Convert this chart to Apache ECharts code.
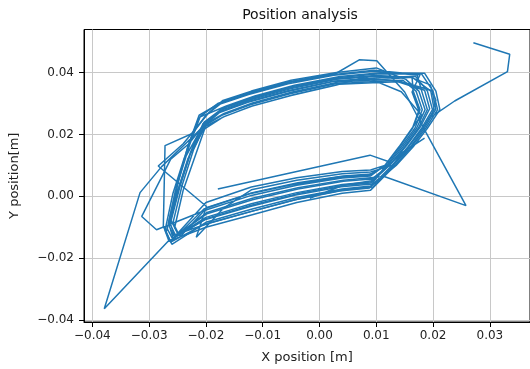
<!DOCTYPE html>
<html><head><meta charset="utf-8">
<script src="https://cdn.jsdelivr.net/npm/echarts@6/dist/echarts.min.js"></script>
<style>html,body{margin:0;padding:0;background:#fff}#c{width:530px;height:369px}</style>
</head><body><div id="c"></div><script>
// Tick values
const xTicks = [-0.04, -0.03, -0.02, -0.01, 0.00, 0.01, 0.02, 0.03];
const yTicks = [-0.04, -0.02, 0.00, 0.02, 0.04];
const xRange = [-0.04147, 0.03707];
const yRange = [-0.0406, 0.0539];

// Trajectory segment 1 (starts at the top-right tail)
const pathA = [
[0.0271,0.0496],[0.0335,0.0459],[0.0331,0.0403],[0.0238,0.0308],[0.0197,0.0257],[0.0205,0.0310],[0.0195,0.0360],
[0.0160,0.0385],[0.0100,0.0388],[0.0030,0.0378],[-0.0050,0.0348],[-0.0120,0.0313],[-0.0170,0.0280],
[-0.0205,0.0235],[-0.0228,0.0138],[-0.0248,0.0025],[-0.0265,-0.0095],[-0.0255,-0.0132],
[-0.0200,-0.0068],[-0.0120,-0.0024],[-0.0040,0.0012],[0.0040,0.0038],[0.0090,0.0046],
[0.0123,0.0100],[0.0150,0.0160],[0.0174,0.0220],[0.0190,0.0280],[0.0180,0.0340],
[0.0172,0.0392],[0.0095,0.0404],[0.0025,0.0391],[-0.0055,0.0364],[-0.0125,0.0329],[-0.0175,0.0298],
[-0.0200,0.0262],[-0.0223,0.0204],[-0.0272,0.0164],[-0.0275,-0.0097],[-0.0262,-0.0148],
[-0.0205,-0.0092],[-0.0125,-0.0051],[-0.0045,-0.0012],[0.0035,0.0017],[0.0088,0.0027],
[0.0128,0.0100],[0.0157,0.0160],[0.0182,0.0220],[0.0202,0.0280],[0.0196,0.0340],
[0.0163,0.0385],[0.0102,0.0377],[0.0032,0.0369],[-0.0048,0.0337],[-0.0118,0.0302],[-0.0168,0.0268],
[-0.0200,0.0235],[-0.0222,0.0150],[-0.0242,0.0035],[-0.0258,-0.0085],[-0.0248,-0.0122],
[-0.0198,-0.0052],[-0.0118,-0.0006],[-0.0038,0.0028],[0.0042,0.0052],[0.0114,0.0064],
[0.0258,-0.0030],[0.0185,0.0215],[0.0168,0.0274],[0.0150,0.0337],[0.0101,0.0438],[0.0070,0.0441],
[0.0028,0.0396],[-0.0052,0.0370],[-0.0122,0.0335],[-0.0172,0.0304],
[-0.0212,0.0262],[-0.0232,0.0160],[-0.0250,0.0040],[-0.0266,-0.0085],[-0.0258,-0.0135],
[-0.0202,-0.0076],[-0.0122,-0.0033],[-0.0042,0.0004],[0.0038,0.0031],[0.0092,0.0040],
[0.0118,0.0100],[0.0144,0.0160],[0.0168,0.0220],[0.0181,0.0280],[0.0170,0.0340],
[0.0147,0.0375],[0.0098,0.0371],[0.0028,0.0364],[-0.0052,0.0331],[-0.0122,0.0296],[-0.0172,0.0262],
[-0.0205,0.0225],[-0.0278,0.0096],[-0.0316,0.0012],[-0.0379,-0.0363],[-0.0267,-0.0146],
[-0.0200,-0.0100],[-0.0120,-0.0060],[-0.0040,-0.0020],[0.0040,0.0010],[0.0090,0.0020],
[0.0133,0.0100],[0.0162,0.0160],[0.0187,0.0220],[0.0208,0.0280],[0.0200,0.0340],
[0.0180,0.0395],[0.0105,0.0396],[0.0035,0.0384],[-0.0045,0.0356],[-0.0115,0.0321],[-0.0165,0.0289],
[-0.0197,0.0245],[-0.0218,0.0135],[-0.0240,0.0020],[-0.0255,-0.0100],[-0.0245,-0.0130],
[-0.0198,-0.0036],[-0.0118,0.0012],[-0.0038,0.0044],[0.0042,0.0066],[0.0092,0.0072],
[0.0125,0.0110],[0.0089,0.0133],[-0.0179,0.0024]
];

// Trajectory segment 2
const pathB = [
[-0.0017,-0.0006],[0.0040,0.0035],[0.0092,0.0050],
[0.0120,0.0100],[0.0147,0.0160],[0.0171,0.0220],[0.0186,0.0280],[0.0175,0.0340],
[0.0152,0.0378],[0.0100,0.0415],[0.0030,0.0400],[-0.0050,0.0375],[-0.0120,0.0340],[-0.0170,0.0310],
[-0.0195,0.0270],[-0.0240,0.0170],[-0.0284,0.0098],[-0.0199,-0.0033],[-0.0217,-0.0132],
[-0.0170,-0.0040],[-0.0120,0.0021],[-0.0040,0.0052],[0.0040,0.0073],[0.0090,0.0079],
[0.0128,0.0100],[0.0156,0.0160],[0.0180,0.0220],[0.0199,0.0280],[0.0190,0.0340],
[0.0169,0.0388],[0.0096,0.0382],[0.0026,0.0373],[-0.0054,0.0342],[-0.0124,0.0307],[-0.0174,0.0274],
[-0.0200,0.0240],[-0.0230,0.0170],[-0.0262,0.0120],[-0.0313,-0.0065],[-0.0287,-0.0108],
[-0.0200,-0.0044],[-0.0120,0.0003],[-0.0040,0.0036],[0.0040,0.0059],[0.0090,0.0066],
[0.0115,0.0100],[0.0140,0.0160],[0.0163,0.0220],[0.0180,0.0262],[0.0144,0.0338],
[0.0080,0.0386],[0.0030,0.0360],[-0.0050,0.0326],[-0.0120,0.0291],[-0.0170,0.0256],
[-0.0205,0.0215],[-0.0232,0.0120],[-0.0252,0.0005],[-0.0270,-0.0115],[-0.0260,-0.0155],
[-0.0200,-0.0084],[-0.0120,-0.0042],[-0.0040,-0.0004],[0.0040,0.0024],[0.0090,0.0033],
[0.0135,0.0100],[0.0165,0.0160],[0.0190,0.0220],[0.0212,0.0280],[0.0205,0.0340],
[0.0185,0.0398],[0.0108,0.0399],[0.0036,0.0387],[-0.0044,0.0359],[-0.0114,0.0324],[-0.0164,0.0292],
[-0.0212,0.0255],[-0.0230,0.0170],[-0.0250,0.0050],[-0.0262,-0.0075],[-0.0250,-0.0120],
[-0.0200,-0.0020],[-0.0120,0.0030],[-0.0040,0.0060],[0.0040,0.0080],[0.0090,0.0085],
[0.0115,0.0100],[0.0141,0.0160],[0.0164,0.0220],[0.0177,0.0280],[0.0165,0.0340],
[0.0163,0.0385],[0.0098,0.0390],[0.0028,0.0380],[-0.0052,0.0350],[-0.0122,0.0315],[-0.0172,0.0283],
[-0.0203,0.0240],[-0.0226,0.0145],[-0.0246,0.0030],[-0.0263,-0.0090],[-0.0253,-0.0128],
[-0.0198,-0.0056],[-0.0118,-0.0011],[-0.0038,0.0024],[0.0042,0.0049],[0.0092,0.0056],
[0.0125,0.0103],[0.0153,0.0163],[0.0177,0.0223],[0.0194,0.0283],[0.0185,0.0343],
[0.0138,0.0370],[0.0104,0.0368],[0.0034,0.0362],[-0.0046,0.0328],[-0.0116,0.0293],[-0.0166,0.0259],
[-0.0208,0.0220],[-0.0235,0.0130],[-0.0254,0.0015],[-0.0268,-0.0105],[-0.0258,-0.0140],
[-0.0203,-0.0040],[-0.0123,0.0008],[-0.0043,0.0040],[0.0037,0.0063],[0.0087,0.0069],
[0.0114,0.0097],[0.0140,0.0157],[0.0163,0.0217],[0.0175,0.0277],[0.0163,0.0337],
[0.0177,0.0393],[0.0096,0.0407],[0.0022,0.0393],[-0.0058,0.0367],[-0.0128,0.0332],[-0.0178,0.0301],
[-0.0210,0.0258],[-0.0229,0.0165],[-0.0249,0.0045],[-0.0264,-0.0080],[-0.0256,-0.0125],
[-0.0196,-0.0088],[-0.0116,-0.0047],[-0.0036,-0.0008],[0.0044,0.0021],[0.0094,0.0030],
[0.0131,0.0102],[0.0161,0.0162],[0.0185,0.0222],[0.0205,0.0282],[0.0198,0.0342],
[0.0141,0.0372],[0.0094,0.0379],[0.0024,0.0371],[-0.0056,0.0339],[-0.0126,0.0304],[-0.0176,0.0271],
[-0.0200,0.0232],[-0.0238,0.0125],[-0.0258,0.0010],[-0.0272,-0.0110],[-0.0265,-0.0145],
[-0.0200,-0.0072],[-0.0120,-0.0029],[-0.0040,0.0008],[0.0040,0.0035],[0.0090,0.0043],
[0.0145,0.0140],[0.0185,0.0188]
];

const FONT = 'DejaVu Sans';
const fmt = v => (v < 0 ? '\u2212' : '') + Math.abs(v).toFixed(2);
const chart = echarts.init(document.getElementById('c'), null, {renderer: 'canvas'});
const lineStyle = {color: '#1f77b4', width: 1.5};
chart.setOption({
  animation: false,
  graphic: [{type: 'text', x: 300, y: 15, style: {text: 'Position analysis', font: '14px "DejaVu Sans"', fill: '#111', textAlign: 'center', textVerticalAlign: 'middle'}}],
  grid: {left: 84, right: -3, top: 29.5, bottom: 46, show: true, borderColor: '#000', borderWidth: 1},
  xAxis: {
    type: 'value', min: xRange[0], max: xRange[1],
    name: 'X position [m]', nameLocation: 'middle', nameGap: 29,
    nameTextStyle: {fontFamily: FONT, fontSize: 13, color: '#222'},
    axisLine: {onZero: false, lineStyle: {color: '#000', width: 1}},
    axisTick: {customValues: xTicks, length: 5, lineStyle: {color: '#000'}},
    axisLabel: {customValues: xTicks, formatter: fmt, fontFamily: FONT, fontSize: 12, color: '#222', margin: 8},
    splitLine: {show: true, lineStyle: {color: '#c8c8c8', width: 1}}
  },
  yAxis: {
    type: 'value', min: yRange[0], max: yRange[1],
    name: 'Y position[m]', nameLocation: 'middle', nameGap: 63,
    nameTextStyle: {fontFamily: FONT, fontSize: 13, color: '#222'},
    axisLine: {onZero: false, lineStyle: {color: '#000', width: 1}},
    axisTick: {customValues: yTicks, length: 5, lineStyle: {color: '#000'}},
    axisLabel: {customValues: yTicks, formatter: fmt, fontFamily: FONT, fontSize: 12, color: '#222', margin: 10},
    splitLine: {show: true, lineStyle: {color: '#c8c8c8', width: 1}}
  },
  series: [
    {type: 'line', data: pathA, showSymbol: false, symbol: 'none', lineStyle: lineStyle, itemStyle: {color: '#1f77b4'}, z: 3},
    {type: 'line', data: pathB, showSymbol: false, symbol: 'none', lineStyle: lineStyle, itemStyle: {color: '#1f77b4'}, z: 3}
  ]
});
</script></body></html>
